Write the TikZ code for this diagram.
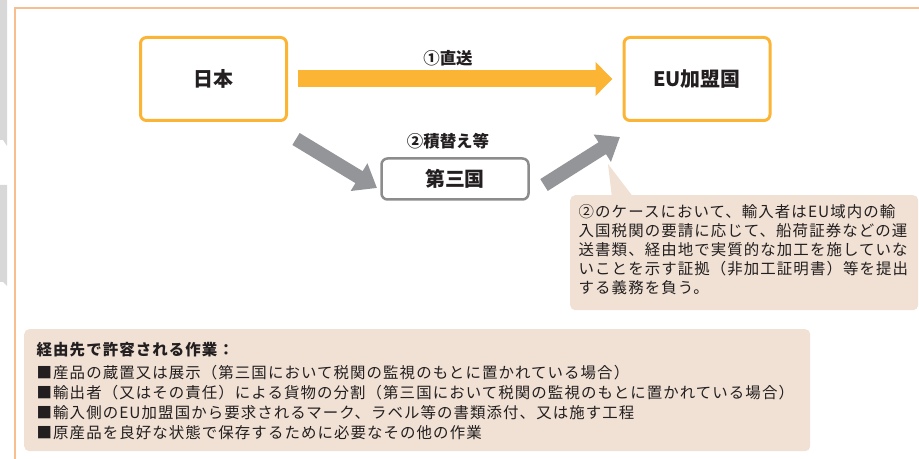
\documentclass[tikz,border=0pt]{standalone}
\usepackage{fontspec}
\setmainfont{Noto Sans CJK JP}
\newfontfamily\bodyfont{Noto Sans CJK JP}[LetterSpace=7]
\usetikzlibrary{arrows.meta}
\definecolor{frameor}{HTML}{F9BE90}
\definecolor{boxor}{HTML}{FBB434}
\definecolor{arrgray}{HTML}{939598}
\definecolor{boxgray}{HTML}{8C8C8C}
\definecolor{beige}{HTML}{F0E1D4}
\definecolor{txt}{HTML}{231F20}
\definecolor{strip}{HTML}{D8D8D8}
\tikzset{
  mainbox/.style={draw=boxor, line width=3bp, rounded corners=6bp, fill=white,
    minimum width=146bp, minimum height=83bp, inner sep=0pt, text=txt,
    font=\fontsize{20}{24}\selectfont\bfseries},
  thirdbox/.style={draw=boxgray, line width=2.5bp, rounded corners=6bp, fill=white,
    minimum width=147bp, minimum height=41bp, inner sep=0pt, text=txt,
    font=\fontsize{20}{24}\selectfont\bfseries},
  lbl/.style={inner sep=0pt, text=txt, font=\fontsize{16.5}{20}\selectfont\bfseries},
  orarrow/.style={draw=boxor, line width=17bp, line cap=butt,
    -{Triangle[length=17bp,width=33bp]}},
  grarrow/.style={draw=arrgray, line width=14bp, line cap=butt,
    -{Triangle[length=21bp,width=31bp]}},
  notebox/.style={fill=beige, rounded corners=5bp, inner sep=0pt},
  bodytext/.style={inner sep=0pt, align=left, text=txt}
}
\begin{document}
\begin{tikzpicture}[x=1bp,y=-1bp]
\useasboundingbox (0,0) rectangle (919,459);
% page artefacts at the left edge
\fill[strip] (0,0) -- (7,0) -- (7,146) -- (3,140) -- (0,140) -- cycle;
\fill[strip] (0,185) -- (7,185) -- (7,286) -- (3,282) -- (0,282) -- cycle;
% frame
\draw[frameor, line width=1.3bp] (15,459) -- (15,8) -- (919,8);

% main nodes
\node[mainbox] (jp) at (213.5,79) {日本};
\node[mainbox] (eu) at (697,79) {EU加盟国};
\node[thirdbox] (third) at (455,179) {第三国};

% labels
\node[lbl] (l1) at (448,58) {①直送};
\node[lbl] (l2) at (448,141) {②積替え等};

% arrows
\draw[orarrow, shorten <=9.5bp, shorten >=10bp] (jp.east) -- (eu.west);
\coordinate (g1s) at (296,139);
\coordinate (g1e) at (377,188);
\coordinate (g2s) at (544,185);
\coordinate (g2e) at (620,137);
\draw[grarrow] (g1s) -- (g1e);
\draw[grarrow] (g2s) -- (g2e);

% callout
\fill[beige] (608,164) -- (612,198) -- (634,198) -- cycle;
\node[notebox, minimum width=348bp, minimum height=115bp, anchor=north west] (note) at (570,195) {};
\node[bodytext, anchor=north west, font=\fontsize{15.5}{19.25}\selectfont\bodyfont] (notetext) at (578.5,204)
{②のケースにおいて、輸入者はEU域内の輸\\
入国税関の要請に応じて、船荷証券などの運\\
送書類、経由地で実質的な加工を施していな\\
いことを示す証拠（非加工証明書）等を提出\\
する義務を負う。};

% bottom box
\node[notebox, minimum width=786bp, minimum height=122bp, anchor=north west] (ops) at (24,329) {};
\node[bodytext, anchor=north west, font=\fontsize{15.5}{20}\selectfont\bodyfont] (opstext) at (36.5,342)
{{\bfseries 経由先で許容される作業：}\\[3bp]
■産品の蔵置又は展示（第三国において税関の監視のもとに置かれている場合）\\
■輸出者（又はその責任）による貨物の分割（第三国において税関の監視のもとに置かれている場合）\\
■輸入側のEU加盟国から要求されるマーク、ラベル等の書類添付、又は施す工程\\
■原産品を良好な状態で保存するために必要なその他の作業};
\end{tikzpicture}
\end{document}
